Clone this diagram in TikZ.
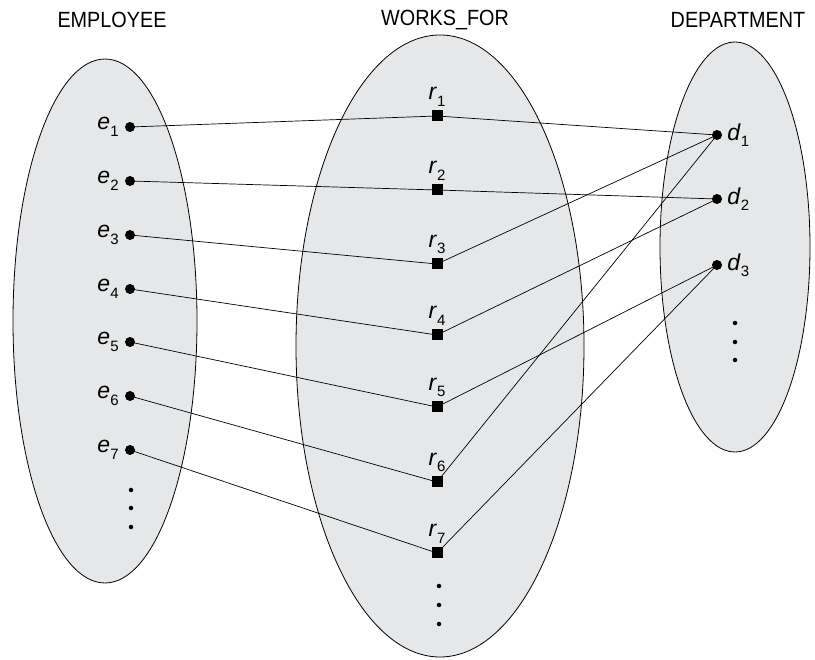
\documentclass[tikz,border=0pt]{standalone}
\usepackage{fontspec}
\setmainfont{Liberation Sans}
\newfontfamily\headfont[FakeStretch=0.9]{Liberation Sans}
\newcommand{\lbl}[2]{\textit{#1}\raisebox{-0.28em}{\fontsize{15}{16}\selectfont #2}}
\begin{document}
\begin{tikzpicture}[x=1pt,y=-1pt,
  set/.style={draw=black, fill=setgray, line width=0.8pt},
  ent/.style={circle, fill=black, inner sep=0pt, minimum size=10pt},
  rel/.style={rectangle, fill=black, inner sep=0pt, minimum size=11pt},
  smalldot/.style={circle, fill=black, inner sep=0pt, minimum size=4.5pt},
  head/.style={font=\headfont\fontsize{22}{26}\selectfont},
  lab/.style={font=\fontsize{23}{26}\selectfont, inner sep=1pt},
  link/.style={line width=0.7pt}]
\definecolor{setgray}{HTML}{E6E7E8}
\useasboundingbox (0,0) rectangle (815,660);
\node[head] (hE) at (112,20) {EMPLOYEE};
\node[head] (hW) at (445,20) {WORKS\_FOR};
\node[head] (hD) at (738,20) {DEPARTMENT};
\draw[set] (105,321) ellipse [x radius=92, y radius=262];
\draw[set] (440,346) ellipse [x radius=144, y radius=311];
\draw[set] (735,247) ellipse [x radius=75, y radius=205];
% employees
\foreach \i/\y in {1/127,2/181,3/235,4/289,5/342,6/396,7/450}{
  \node[ent, label={[lab, label distance=5pt]left:\lbl{e}{\i}}] (e\i) at (130,\y) {};
}
\node[smalldot] (ed1) at (131,490) {};
\node[smalldot] (ed2) at (131,508) {};
\node[smalldot] (ed3) at (131,527) {};
% relationships
\foreach \i/\y in {1/116,2/190,3/264,4/335,5/407,6/482,7/553}{
  \node[rel, label={[lab, label distance=3pt]above:\lbl{r}{\i}}] (r\i) at (437,\y) {};
}
\node[smalldot] (rd1) at (439,586) {};
\node[smalldot] (rd2) at (439,605) {};
\node[smalldot] (rd3) at (439,624) {};
% departments
\foreach \i/\y in {1/135,2/199,3/265}{
  \node[ent, label={[lab, label distance=4pt]right:\lbl{d}{\i}}] (d\i) at (717,\y) {};
}
\node[smalldot] (dd1) at (735,323) {};
\node[smalldot] (dd2) at (735,342) {};
\node[smalldot] (dd3) at (735,360) {};
% links
\draw[link] (e1.center) -- (r1.center) -- (d1.center);
\draw[link] (e2.center) -- (r2.center) -- (d2.center);
\draw[link] (e3.center) -- (r3.center) -- (d1.center);
\draw[link] (e4.center) -- (r4.center) -- (d2.center);
\draw[link] (e5.center) -- (r5.center) -- (d3.center);
\draw[link] (e6.center) -- (r6.center) -- (d1.center);
\draw[link] (e7.center) -- (r7.center) -- (d3.center);
\end{tikzpicture}
\end{document}
